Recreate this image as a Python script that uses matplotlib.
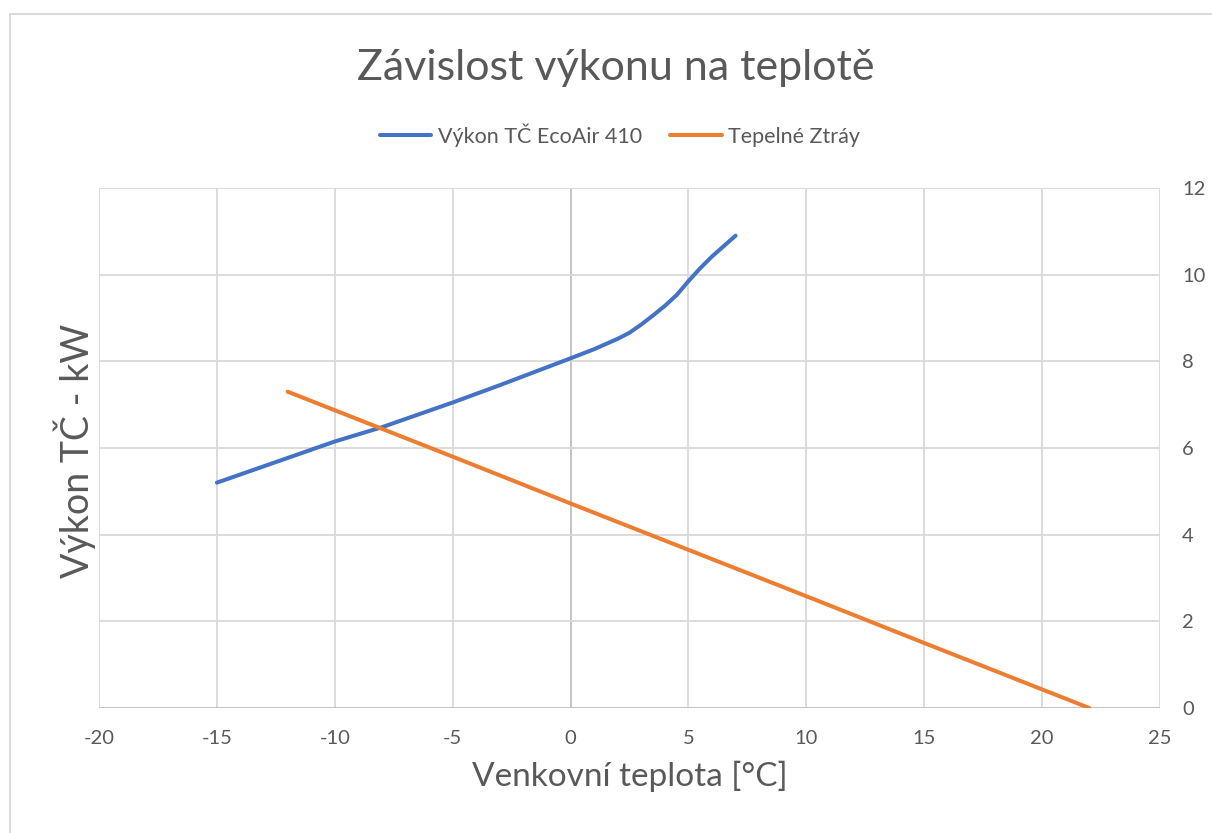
import numpy as np, matplotlib
matplotlib.use("Agg")
import matplotlib.pyplot as plt
from matplotlib.patches import Rectangle

plt.rcParams["font.family"] = ["Lato", "DejaVu Sans"]
plt.rcParams["axes.unicode_minus"] = False

# ---- data ----
hp_temp = [-15, -10, -8, -5, -3, 0, 1, 2, 2.5, 3, 3.5, 4, 4.5, 5, 5.5, 6, 6.5, 7]
hp_power = [5.2, 6.15, 6.48, 7.05, 7.45, 8.07, 8.28, 8.52, 8.66, 8.85, 9.06, 9.28, 9.53, 9.85, 10.15, 10.42, 10.66, 10.9]
loss_temp = [-12, -5, 0, 5, 10, 15, 22]
loss_power = [7.3, 5.8, 4.72, 3.65, 2.58, 1.5, 0.0]
xticks = list(range(-20, 30, 5))
yticks = list(range(0, 14, 2))

txt = "#595959"; grid = "#d9d9d9"; axc = "#bfbfbf"
fig = plt.figure(figsize=(12.12, 8.33), dpi=100, facecolor="white")
fig.patches.append(Rectangle((10/1212, -0.01), 1.0, 1 - 14/833 + 0.01, transform=fig.transFigure,
                             fill=False, edgecolor=grid, lw=1.3))
ax = fig.add_axes([99/1212, 1 - 708/833, (1160 - 99)/1212, (708 - 188)/833])

for x in xticks:
    ax.axvline(x, color=axc if x == 0 else grid, lw=1.3, zorder=1)
for y in yticks:
    ax.axhline(y, color=axc if y == 0 else grid, lw=1.3, zorder=1)

ax.plot(hp_temp, hp_power, color="#4472C4", lw=2.9, solid_capstyle="round", solid_joinstyle="round",
        zorder=3, label="Výkon TČ EcoAir 410")
ax.plot(loss_temp, loss_power, color="#ED7D31", lw=2.9, solid_capstyle="round", zorder=3, label="Tepelné Ztráy")

ax.set_xlim(-20, 25); ax.set_ylim(0, 12)
ax.set_xticks(xticks); ax.set_yticks(yticks)
ax.yaxis.tick_right()
ax.tick_params(axis="x", length=0, pad=16, labelsize=14.5, labelcolor=txt)
ax.tick_params(axis="y", length=0, pad=16, labelsize=14.5, labelcolor=txt)
for s in ax.spines.values(): s.set_visible(False)

ax.set_xlabel("Venkovní teplota [°C]", fontsize=24, color=txt, labelpad=10)
fig.text(75/1212, 1 - 451/833, "Výkon TČ - kW", rotation=90, fontsize=27, color=txt, ha="center", va="center")
fig.text(616/1212, 1 - 68/833, "Závislost výkonu na teplotě", fontsize=31, color=txt, ha="center", va="center")
fig.legend(loc="center", bbox_to_anchor=(620/1212, 1 - 135/833), ncol=2, frameon=False, fontsize=15.5,
           labelcolor=txt, handlelength=2.4, columnspacing=1.3, handletextpad=0.3)

plt.savefig("out.png", dpi=100, facecolor="white")
